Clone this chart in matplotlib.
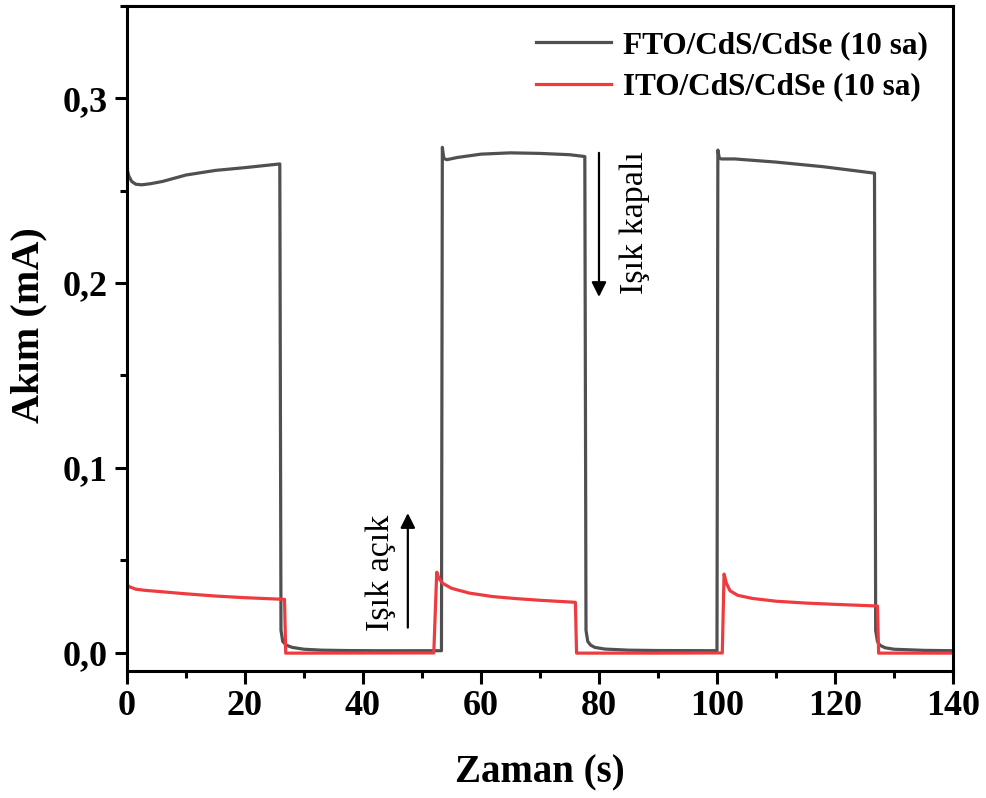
import matplotlib.pyplot as plt
from matplotlib.ticker import MultipleLocator, FuncFormatter

# FTO/CdS/CdSe (10 sa)
fto_t = [0, 0.3, 0.8, 1.5, 2.5, 4, 6, 10, 15, 20, 25.9,
         26.1, 26.4, 27, 28, 30, 33, 37, 42, 50, 53.3,
         53.45, 53.7, 54.2, 56, 60, 65, 70, 75, 77.6,
         77.8, 78.1, 78.6, 79.3, 81, 85, 90, 100.0,
         100.15, 100.4, 100.8, 103, 110, 118, 126.7,
         126.9, 127.2, 127.6, 128.5, 130, 135, 140]
fto_i = [0.262, 0.258, 0.255, 0.2535, 0.2532, 0.2538, 0.255, 0.2585, 0.261, 0.2625, 0.2645,
         0.012, 0.006, 0.004, 0.0028, 0.0018, 0.0013, 0.0011, 0.001, 0.001, 0.001,
         0.2735, 0.2675, 0.2668, 0.268, 0.2698, 0.2705, 0.2702, 0.2695, 0.2685,
         0.012, 0.006, 0.004, 0.0028, 0.0019, 0.0013, 0.0011, 0.001,
         0.272, 0.2675, 0.2672, 0.2672, 0.2655, 0.263, 0.2595,
         0.012, 0.006, 0.004, 0.0026, 0.0018, 0.0012, 0.001]

# ITO/CdS/CdSe (10 sa)
ito_t = [0, 0.5, 1.5, 3, 6, 10, 15, 20, 26.7,
         26.9, 30, 52.0,
         52.5, 52.9, 53.5, 55, 58, 62, 66, 70, 76.0,
         76.2, 90, 100.9,
         101.2, 101.6, 102.2, 103.5, 106, 110, 115, 120, 127.2,
         127.4, 140]
ito_i = [0.0365, 0.0355, 0.0343, 0.0337, 0.0329, 0.0318, 0.0306, 0.0297, 0.0288,
         -0.0003, -0.0003, -0.0002,
         0.0435, 0.040, 0.0375, 0.0348, 0.0322, 0.0303, 0.0292, 0.0283, 0.0272,
         -0.0003, -0.0003, -0.0002,
         0.0425, 0.0375, 0.0335, 0.031, 0.0293, 0.0278, 0.0268, 0.0261, 0.0252,
         -0.0003, -0.0003]

labels = ['FTO/CdS/CdSe (10 sa)', 'ITO/CdS/CdSe (10 sa)']


def main():
    plt.rcParams['font.family'] = 'Liberation Serif'
    fig = plt.figure(figsize=(9.86, 7.98), dpi=100)
    ax = fig.add_axes([0.1288, 0.1591, 0.8377, 0.8334])

    ax.plot(fto_t, fto_i, color='#505050', lw=2.3, label=labels[0])
    ax.plot(ito_t, ito_i, color='#ee3b40', lw=2.3, label=labels[1])

    ax.set_xlim(0, 140)
    ax.set_ylim(-0.01, 0.35)
    ax.xaxis.set_major_locator(MultipleLocator(20))
    ax.xaxis.set_minor_locator(MultipleLocator(10))
    ax.yaxis.set_major_locator(MultipleLocator(0.1))
    ax.yaxis.set_minor_locator(MultipleLocator(0.05))
    ax.yaxis.set_major_formatter(FuncFormatter(lambda v, p: f'{v:.1f}'.replace('.', ',')))

    for s in ax.spines.values():
        s.set_linewidth(2.2)
    ax.tick_params(which='major', direction='out', length=9, width=2.2, labelsize=26, pad=5)
    ax.tick_params(which='minor', direction='out', length=5, width=2.2)
    for lab in ax.get_xticklabels() + ax.get_yticklabels():
        lab.set_fontweight('bold')

    ax.set_xlabel('Zaman (s)', fontsize=28, fontweight='bold', labelpad=22)
    ax.set_ylabel('Akım (mA)', fontsize=29, fontweight='bold')
    ax.yaxis.set_label_coords(-0.096, 0.52)

    ax.legend(loc='upper right', frameon=False, handlelength=2.4,
              borderaxespad=0.4, labelspacing=0.4, handletextpad=0.4,
              prop={'weight': 'bold', 'size': 22.5})

    # light on / off markers
    ax.annotate('', xy=(47.6, 0.077), xytext=(47.6, 0.012),
                arrowprops=dict(arrowstyle='-|>', color='black', lw=1.6, mutation_scale=22))
    ax.text(43.0, 0.043, 'Işık açık', rotation=90, fontsize=24.5, ha='center', va='center')
    ax.annotate('', xy=(80.0, 0.191), xytext=(80.0, 0.272),
                arrowprops=dict(arrowstyle='-|>', color='black', lw=1.6, mutation_scale=22))
    ax.text(86.0, 0.233, 'Işık kapalı', rotation=90, fontsize=24.5, ha='center', va='center')

    fig.savefig('out.png', dpi=100)


if __name__ == '__main__':
    main()
